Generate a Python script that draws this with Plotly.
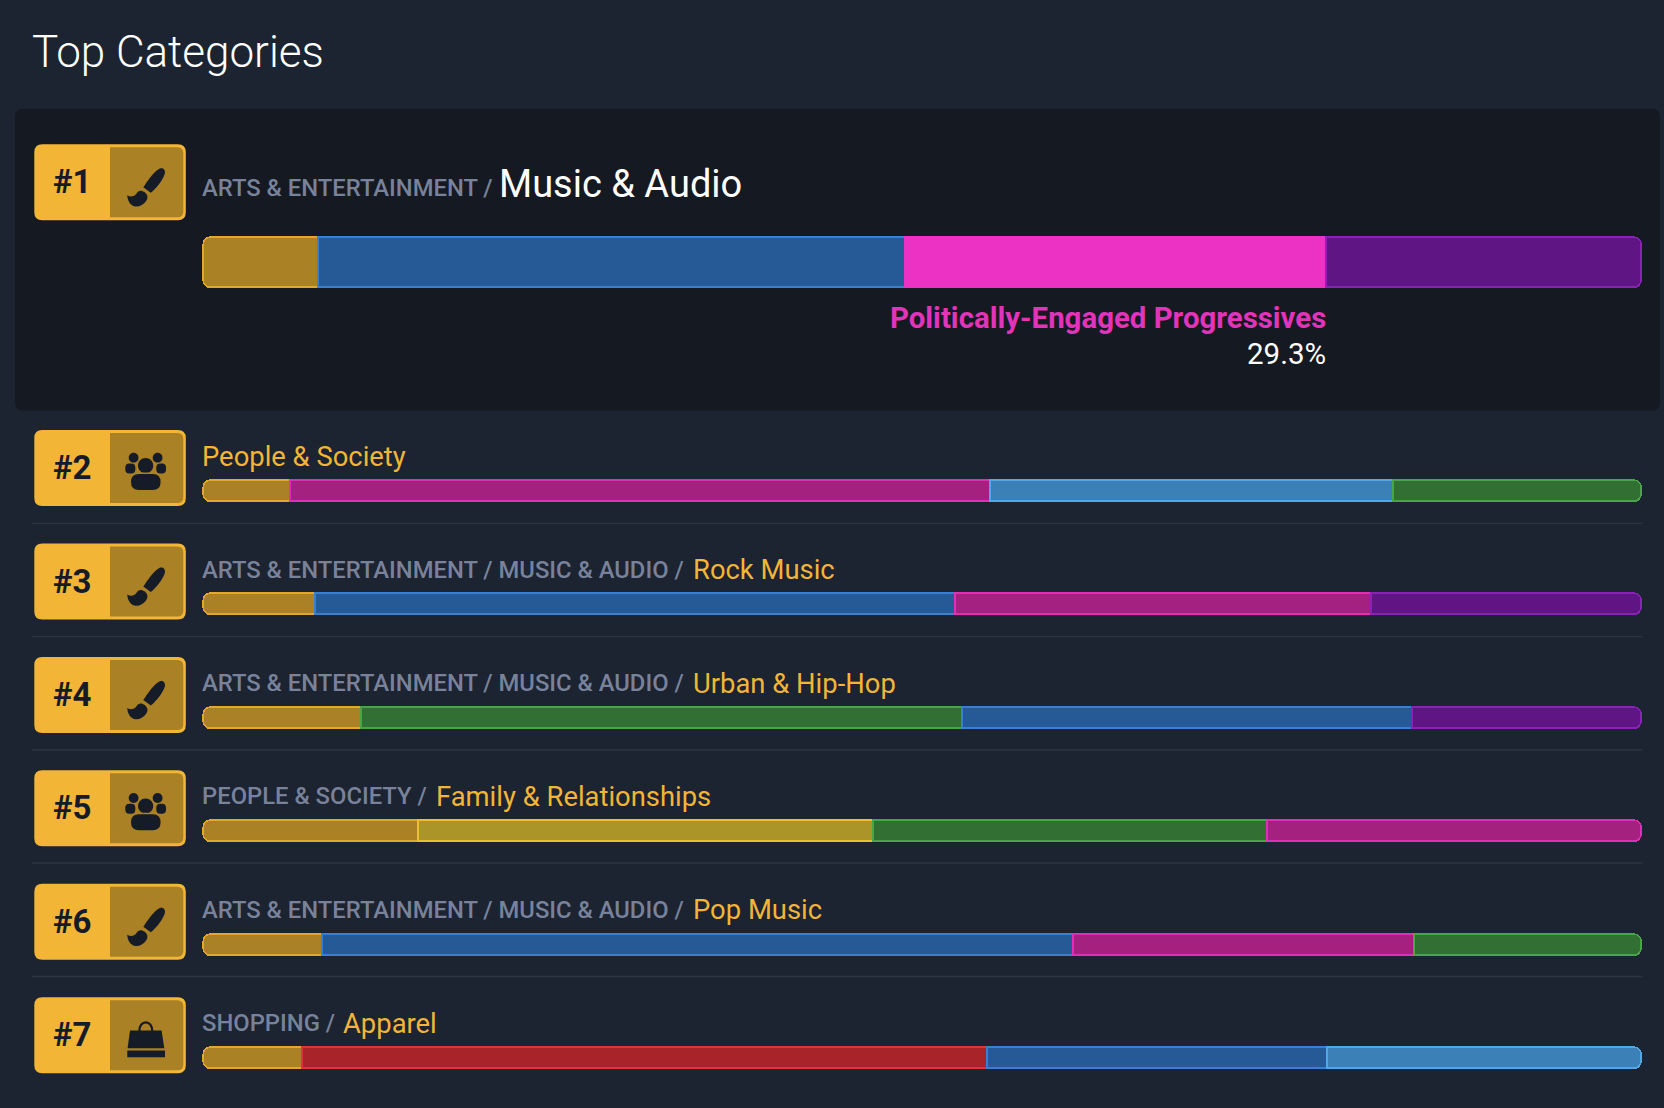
import plotly.graph_objects as go

# ---------- data ----------
ranks = ["#1", "#2", "#3", "#4", "#5", "#6", "#7"]
crumbs = ["ARTS & ENTERTAINMENT /", "", "ARTS & ENTERTAINMENT / MUSIC & AUDIO /",
          "ARTS & ENTERTAINMENT / MUSIC & AUDIO /", "PEOPLE & SOCIETY /",
          "ARTS & ENTERTAINMENT / MUSIC & AUDIO /", "SHOPPING /"]
names = ["Music & Audio", "People & Society", "Rock Music", "Urban & Hip-Hop",
         "Family & Relationships", "Pop Music", "Apparel"]
icons = ["brush", "people", "brush", "brush", "people", "brush", "bag"]
seg1 = [8.0, 6.05, 7.8, 11.0, 15.0, 8.3, 6.9]
seg2 = [40.8, 48.7, 44.5, 41.8, 31.6, 52.2, 47.6]
seg3 = [29.3, 28.0, 28.9, 31.3, 27.4, 23.7, 23.7]
seg4 = [21.9, 17.25, 18.8, 15.9, 26.0, 15.8, 21.8]
highlight_label = "Politically-Engaged Progressives"
highlight_value = "29.3%"

# ---------- style ----------
GOLD = ("#aa8124", "#e3a72e")
BLUE = ("#255a96", "#3a80d2")
HOT = ("#ec32c4", "#ec32c4")
PURPLE = ("#5f1684", "#8a22b8")
MAG = ("#a4217f", "#df2fb5")
SKY = ("#3b80b6", "#4fa8e8")
GREEN = ("#326f33", "#48a548")
YELLOW = ("#ab9428", "#e8c030")
RED = ("#a92429", "#e0343a")
col1 = [GOLD] * 7
col2 = [BLUE, MAG, BLUE, GREEN, YELLOW, BLUE, RED]
col3 = [HOT, SKY, MAG, BLUE, GREEN, MAG, BLUE]
col4 = [PURPLE, GREEN, PURPLE, PURPLE, MAG, GREEN, SKY]

BG, PANEL, SEP = "#1c2331", "#151922", "#2d3444"
AMBER, AMBER_D, INK, GREY = "#f3b536", "#aa8124", "#151b27", "#78829a"
FONT = "Roboto"
W, H = 1664, 1108
BAR_L, BAR_R = 203.7, 1642.0
TEXT_L = 201
PX = (BAR_R - BAR_L) / 100
row_top = [144.3, 430, 543.5, 657, 770.3, 883.7, 997.3]
bar_y = [262.5, 491.2, 604.7, 718.2, 831.5, 945, 1058.5]
bar_h = [50, 21, 21, 21, 21, 21, 21]
label_y = [184, 456, 569.5, 683, 796.3, 909.7, 1023]
name_x = [498, 201, 692, 692, 435, 692, 342]
sep_y = [523.3, 636.6, 750, 863, 976.5]

fig = go.Figure()
none = "rgba(0,0,0,0)"


def bar(vals, cols, axis, name):
    fig.add_trace(go.Bar(
        x=vals, y=bar_y, width=bar_h, orientation="h", xaxis=axis, yaxis="y", name=name,
        marker=dict(color=[c[0] for c in cols], line=dict(color=[c[1] for c in cols], width=1.6)),
        showlegend=False, hoverinfo="x+name"))


def spacer(vals, axis):
    fig.add_trace(go.Bar(
        x=vals, y=bar_y, width=bar_h, orientation="h", xaxis=axis, yaxis="y",
        marker=dict(color=none, line=dict(color=none, width=0)),
        showlegend=False, hoverinfo="skip"))


# first segment: grows leftwards on the reversed under-axis so its left end is the rounded one
spacer([100 - v for v in seg1], "x")
bar(seg1, col1, "x", "segment 1")
# remaining segments stack rightwards on the upper axis, last one rounded on the right
spacer(seg1, "x2")
bar(seg2, col2, "x2", "segment 2")
bar(seg3, col3, "x2", "segment 3")
bar(seg4, col4, "x2", "segment 4")

shapes, ann = [], []


def P(path, fill=None, line=None, lw=0):
    shapes.append(dict(type="path", path=path, xref="x3", yref="y", layer="below",
                       fillcolor=fill or none, line=dict(color=line or none, width=lw)))


def rrect(x0, y0, x1, y1, rl, rr=None):
    rr = rl if rr is None else rr
    return (f"M{x0+rl},{y0} L{x1-rr},{y0} Q{x1},{y0} {x1},{y0+rr} L{x1},{y1-rr} Q{x1},{y1} {x1-rr},{y1} "
            f"L{x0+rl},{y1} Q{x0},{y1} {x0},{y1-rl} L{x0},{y0+rl} Q{x0},{y0} {x0+rl},{y0} Z")


def circle(cx, cy, r):
    k = 0.552 * r
    return (f"M{cx-r},{cy} C{cx-r},{cy-k} {cx-k},{cy-r} {cx},{cy-r} C{cx+k},{cy-r} {cx+r},{cy-k} {cx+r},{cy} "
            f"C{cx+r},{cy+k} {cx+k},{cy+r} {cx},{cy+r} C{cx-k},{cy+r} {cx-r},{cy+k} {cx-r},{cy} Z")


def icon(kind, ox, oy):
    def t(s):
        out = []
        for tok in s.split():
            if tok == "Z":
                out.append("Z")
                continue
            cmd = tok[0] if tok[0].isalpha() else ""
            xy = tok[len(cmd):].split(",")
            out.append(f"{cmd}{float(xy[0])+ox},{float(xy[1])+oy}")
        return " ".join(out)
    if kind == "brush":
        P(t("M125,24.5 C128,23 131.5,25 130.5,29.5 C128.5,36 122,44 116.5,48.5 L109,43 C113,37 119,28 125,24.5 Z"), INK)
        P(t("M93,51 C96,53 100,52.5 102,49.5 C104,46 107,45.5 110.5,48 C113.5,50.5 114,53.5 112,56.5 C109,61 104,63 100,62 C96,61 93,56 93,51 Z"), INK)
    elif kind == "people":
        P(circle(ox + 99.3, oy + 27.7, 4.9), INK)
        P(circle(ox + 123.3, oy + 27.7, 4.9), INK)
        P(rrect(ox + 91, oy + 33.5, ox + 101, oy + 43.5, 4), INK)
        P(rrect(ox + 122, oy + 33.5, ox + 131.7, oy + 43.5, 4), INK)
        P(circle(ox + 111.3, oy + 35.7, 9), AMBER_D)
        P(circle(ox + 111.3, oy + 35.7, 7.6), INK)
        P(rrect(ox + 95.5, oy + 42.5, ox + 127.5, oy + 61.5, 9), AMBER_D)
        P(rrect(ox + 96.7, oy + 44, ox + 126.3, oy + 60, 8), INK)
    else:
        P(t("M95.7,33.3 L127.3,33.3 L130,51 L93.3,51 Z"), INK)
        P(t("M93,53.3 L130.7,53.3 L130.7,60 L93,60 Z"), INK)
        P(t("M105,34 C105,22 118,22 118,34"), None, INK, 2.2)


P(rrect(15, 109, 1660, 410.5, 8), PANEL)
for y in sep_y:
    P(f"M32,{y} L{BAR_R},{y}", None, SEP, 1.3)

for i, top in enumerate(row_top):
    ox = 34.3
    P(rrect(ox, top, ox + 151.5, top + 76, 8), AMBER)
    P(f"M{ox+75.7},{top+3} L{ox+143},{top+3} Q{ox+149},{top+3} {ox+149},{top+9} L{ox+149},{top+67} "
      f"Q{ox+149},{top+73} {ox+143},{top+73} L{ox+75.7},{top+73} Z", AMBER_D)
    icon(icons[i], ox, top)
    ann.append(dict(x=ox + 38, y=top + 37.5, text=f"<b>{ranks[i]}</b>", xanchor="center", yanchor="middle",
                    font=dict(family=FONT, size=33, color=INK)))
    if crumbs[i]:
        ann.append(dict(x=TEXT_L, y=label_y[i] + (4 if i == 0 else 0), text=crumbs[i], xanchor="left", yanchor="middle",
                        font=dict(family=FONT, size=23.8, weight=500, color=GREY)))
    ann.append(dict(x=name_x[i], y=label_y[i] + (0 if i == 0 else 0.5), text=names[i], xanchor="left", yanchor="middle",
                    font=dict(family=FONT, size=38 if i == 0 else 27.4, color="#ffffff" if i == 0 else AMBER)))

ann.append(dict(x=31, y=52, text="Top Categories", xanchor="left", yanchor="middle",
                font=dict(family=FONT, size=44, weight=300, color="#ffffff")))

end3 = BAR_L + (seg1[0] + seg2[0] + seg3[0]) * PX
ann.append(dict(x=end3, y=318, text=f"<b>{highlight_label}</b>", xanchor="right", yanchor="middle",
                font=dict(family=FONT, size=29.4, color="#e233ba")))
ann.append(dict(x=end3, y=354, text=highlight_value, xanchor="right", yanchor="middle",
                font=dict(family=FONT, size=29.5, color="#ffffff")))
for a in ann:
    a.update(xref="x3", yref="y", showarrow=False, xshift=0, yshift=0, borderpad=0)

hidden = dict(visible=False, fixedrange=True)
fig.update_layout(
    width=W, height=H, margin=dict(l=0, r=0, t=0, b=0), autosize=False,
    paper_bgcolor=BG, plot_bgcolor=BG, barmode="stack", barcornerradius=8, bargap=0,
    hovermode="closest", shapes=shapes, annotations=ann, showlegend=False,
    xaxis=dict(range=[BAR_R / PX, (BAR_R - W) / PX], domain=[0, 1], anchor="y", **hidden),
    xaxis2=dict(range=[-BAR_L / PX, (W - BAR_L) / PX], domain=[0, 1], anchor="y", overlaying="x", **hidden),
    xaxis3=dict(range=[0, W], domain=[0, 1], anchor="y", overlaying="x", **hidden),
    yaxis=dict(range=[H, 0], domain=[0, 1], anchor="x", **hidden),
)
fig.write_html("out.html", config=dict(displayModeBar=False),
               post_script="document.body.style.margin='0';document.body.style.overflow='hidden';"
                           "document.body.style.background='#1c2331';")
